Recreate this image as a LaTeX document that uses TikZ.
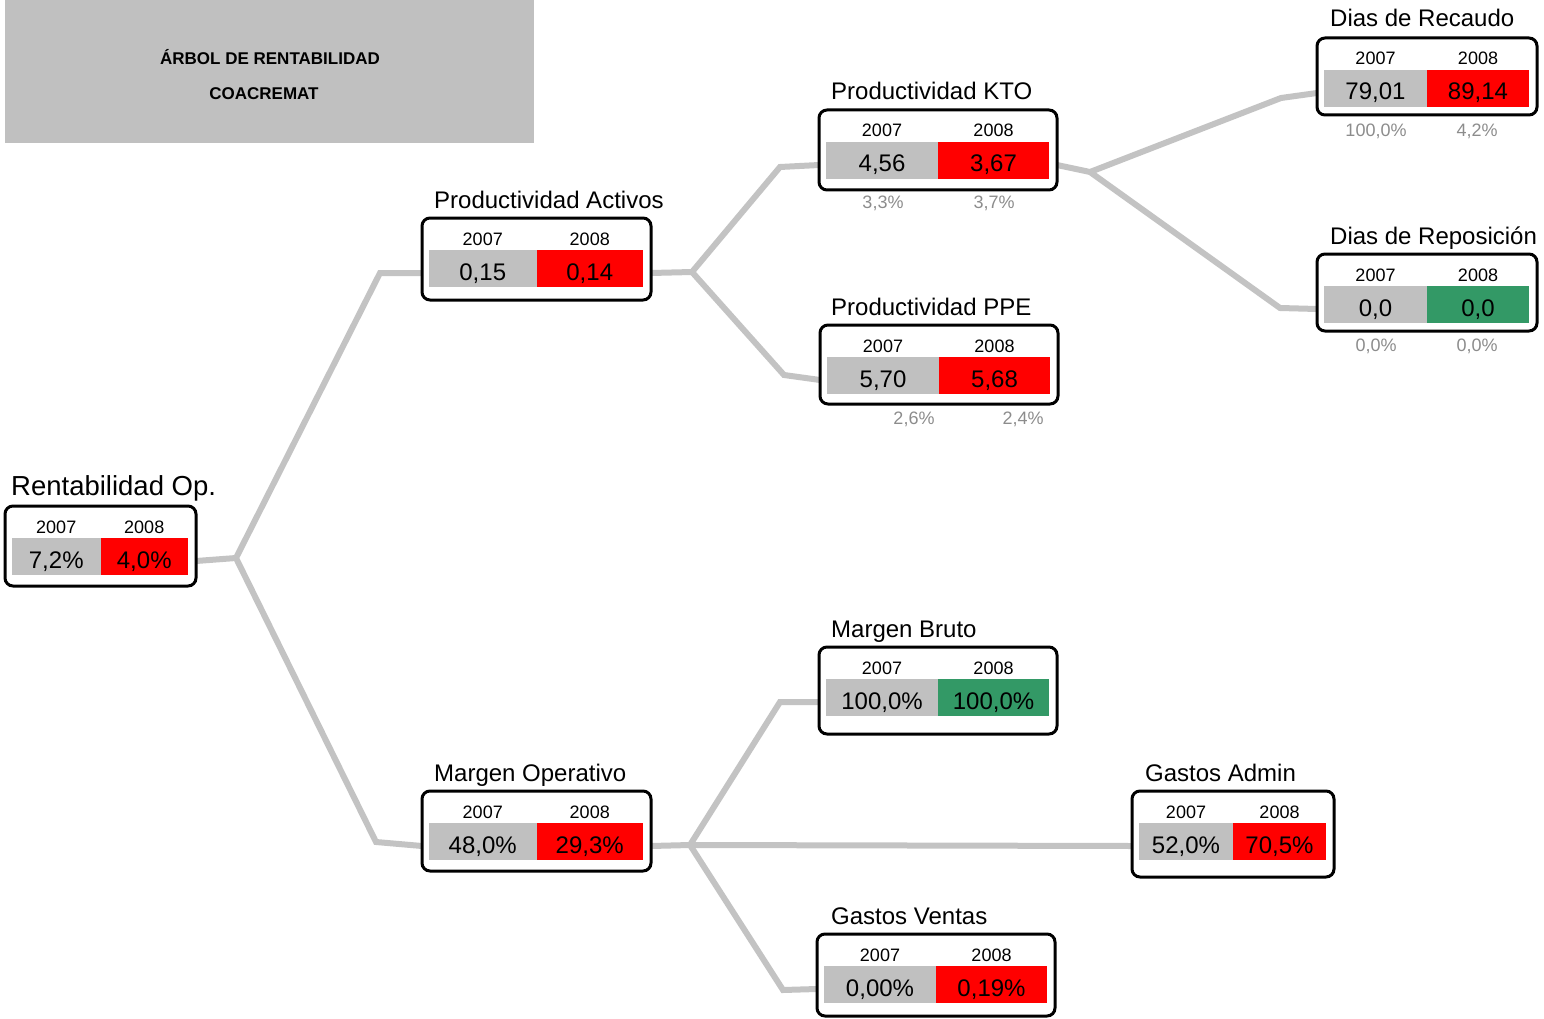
\documentclass[tikz,border=0pt]{standalone}
\usepackage{fontspec}
\setmainfont{Liberation Sans}
\usetikzlibrary{backgrounds}
\definecolor{cellgray}{HTML}{C0C0C0}
\definecolor{cellred}{HTML}{FF0000}
\definecolor{cellgreen}{HTML}{339966}
\definecolor{linegray}{HTML}{C3C3C3}
\definecolor{subgray}{HTML}{8C8C8C}
\definecolor{headgray}{HTML}{C0C0C0}
\tikzset{
  kframe/.style={draw=black, line width=3pt, rounded corners=8pt, fill=white, inner sep=0pt, outer sep=0pt},
  kcell/.style={inner sep=0pt, outer sep=0pt, minimum height=37pt, text height=23pt, text depth=0pt, font=\fontsize{24}{28}\selectfont},
  kyear/.style={inner sep=0pt, anchor=base, font=\fontsize{18}{21}\selectfont},
  ksub/.style={inner sep=0pt, anchor=base, text=subgray, font=\fontsize{18}{21}\selectfont},
  ktitle/.style={inner sep=0pt, anchor=base west, font=\fontsize{24}{28}\selectfont},
  khead/.style={inner sep=0pt, anchor=base, font=\fontsize{17}{20}\selectfont\bfseries},
  conn/.style={draw=linegray, line width=6pt, line join=miter},
}
% #1 name, #2 x1, #3 y1, #4 x2, #5 y2, #6 value 2007, #7 value 2008, #8 colour 2008
\newcommand\kbox[8]{%
  \pgfmathsetmacro\kw{#4-#2}%
  \pgfmathsetmacro\kh{#5-#3}%
  \pgfmathsetmacro\km{(#2+#4)/2}%
  \pgfmathsetmacro\cwA{\km-#2-7}%
  \pgfmathsetmacro\cwB{#4-8-\km}%
  \pgfmathsetmacro\cxA{(#2+7+\km)/2}%
  \pgfmathsetmacro\cxB{(\km+#4-8)/2}%
  \node[kframe, minimum width=\kw pt, minimum height=\kh pt, anchor=north west] (#1) at (#2,#3) {};
  \node[kcell, fill=cellgray, minimum width=\cwA pt, anchor=north west] (#1-a) at (#2+7,#3+32) {#6};
  \node[kcell, fill=#8, minimum width=\cwB pt, anchor=north east] (#1-b) at (#4-8,#3+32) {#7};
  \node[kyear] (#1-ya) at (\cxA,#3+27) {2007};
  \node[kyear] (#1-yb) at (\cxB,#3+27) {2008};
  \coordinate (#1-in) at (#2,#3+55);
  \coordinate (#1-out) at (#4,#3+55);
}
\begin{document}
\begin{tikzpicture}[x=1pt,y=-1pt]
\useasboundingbox (0,0) rectangle (1544,1019);
% header
\node[fill=headgray, inner sep=0pt, outer sep=0pt, minimum width=529pt, minimum height=143pt, anchor=north west] (head) at (5,0) {};
\node[khead] (head-a) at (270,65) {ÁRBOL DE RENTABILIDAD};
\node[khead] (head-b) at (264,100) {COACREMAT};
% boxes
\kbox{rent}{5}{506}{196}{586}{7,2\%}{4,0\%}{cellred}
\kbox{act}{422}{218}{651}{300}{0,15}{0,14}{cellred}
\kbox{kto}{819}{110}{1057}{190}{4,56}{3,67}{cellred}
\kbox{ppe}{820}{325}{1058}{404}{5,70}{5,68}{cellred}
\kbox{rec}{1317}{38}{1537}{115}{79,01}{89,14}{cellred}
\kbox{rep}{1317}{254}{1537}{331}{0,0}{0,0}{cellgreen}
\kbox{mb}{819}{647}{1057}{734}{100,0\%}{100,0\%}{cellgreen}
\kbox{mo}{422}{791}{651}{871}{48,0\%}{29,3\%}{cellred}
\kbox{ga}{1132}{791}{1334}{877}{52,0\%}{70,5\%}{cellred}
\kbox{gv}{817}{934}{1055}{1016}{0,00\%}{0,19\%}{cellred}
% titles
\node[ktitle, font=\fontsize{27.5}{32}\selectfont] (rent-t) at (11,495) {Rentabilidad Op.};
\node[ktitle] (act-t) at (434,208) {Productividad Activos};
\node[ktitle] (kto-t) at (831,100) {Productividad KTO};
\node[ktitle] (ppe-t) at (831,315) {Productividad PPE};
\node[ktitle] (rec-t) at (1330,27) {Dias de Recaudo};
\node[ktitle] (rep-t) at (1330,244) {Dias de Reposición};
\node[ktitle] (mb-t) at (831,637) {Margen Bruto};
\node[ktitle] (mo-t) at (434,781) {Margen Operativo};
\node[ktitle] (ga-t) at (1145,781) {Gastos Admin};
\node[ktitle] (gv-t) at (831,924) {Gastos Ventas};
% sub labels
\node[ksub] (kto-sa) at (883,208) {3,3\%};
\node[ksub] (kto-sb) at (994,208) {3,7\%};
\node[ksub] (ppe-sa) at (914,424) {2,6\%};
\node[ksub] (ppe-sb) at (1023,424) {2,4\%};
\node[ksub] (rec-sa) at (1376,137) {100,0\%};
\node[ksub] (rec-sb) at (1477,137) {4,2\%};
\node[ksub] (rep-sa) at (1376,351) {0,0\%};
\node[ksub] (rep-sb) at (1477,351) {0,0\%};
% connectors
\coordinate (j1) at (236,558);
\coordinate (b1) at (380,273);
\coordinate (b2) at (376,842);
\coordinate (j2) at (692,272);
\coordinate (b3) at (780,167);
\coordinate (b4) at (784,375);
\coordinate (j3) at (1090,172);
\coordinate (b5) at (1281,98);
\coordinate (b6) at (1280,308);
\coordinate (j4) at (690,845);
\coordinate (b7) at (780,702);
\coordinate (b8) at (783,990);
\begin{pgfonlayer}{background}
\draw[conn] (rent-out) -- (j1) -- (b1) -- (act-in);
\draw[conn] (j1) -- (b2) -- (mo-in);
\draw[conn] (act-out) -- (j2) -- (b3) -- (kto-in);
\draw[conn] (j2) -- (b4) -- (ppe-in);
\draw[conn] (kto-out) -- (j3) -- (b5) -- (rec-in);
\draw[conn] (j3) -- (b6) -- (rep-in);
\draw[conn] (mo-out) -- (j4) -- (b7) -- (mb-in);
\draw[conn] (j4) -- (ga-in);
\draw[conn] (j4) -- (b8) -- (gv-in);
\end{pgfonlayer}
\end{tikzpicture}
\end{document}
